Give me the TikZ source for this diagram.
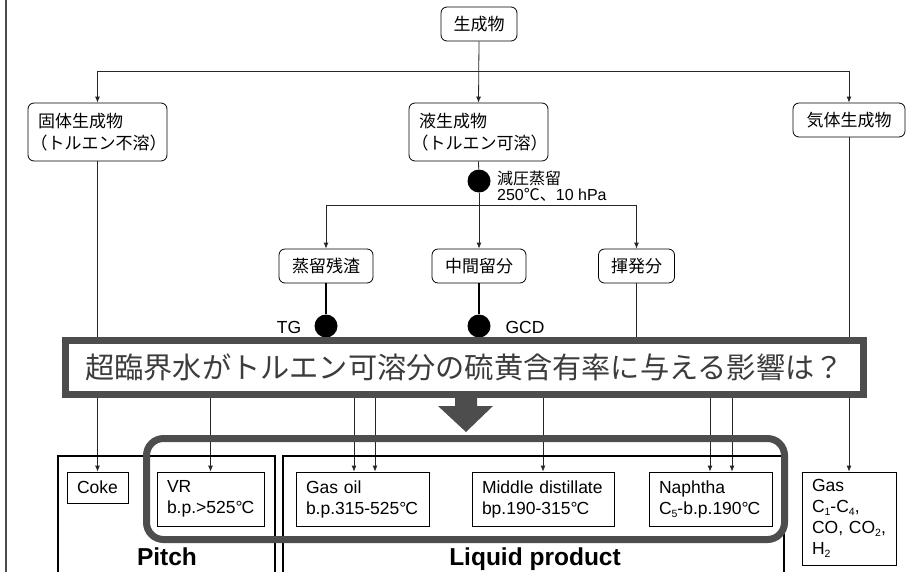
\documentclass[tikz,border=0pt]{standalone}
\usepackage{fontspec}
\setmainfont{Liberation Sans}
\newfontfamily\jp{Noto Sans CJK JP}
\usetikzlibrary{arrows.meta,calc}
\definecolor{bannergray}{RGB}{77,77,77}
\definecolor{bannertext}{RGB}{60,60,60}
\newcommand\dgc{°\kern-0.06em C}
\newcommand\sbs[1]{\raisebox{-0.35ex}{\fontsize{10.5}{10.5}\selectfont #1}}
\newcommand\pleft[1]{\mbox{\kern-7.5pt #1}}
\begin{document}
\begin{tikzpicture}[x=1pt,y=-1pt,
  font=\fontsize{17.5}{21}\selectfont,
  rbox/.style={draw=black, line width=0.8pt, rounded corners=6pt, inner sep=0pt,
    align=left, minimum height=34pt, font=\jp\fontsize{17}{22}\selectfont},
  sbox/.style={draw=black, line width=0.8pt, inner ysep=0pt, inner xsep=10pt,
    align=left, minimum height=54pt},
  dot/.style={circle, fill=black, inner sep=0pt, minimum size=23pt},
  conn/.style={draw=black!85, line width=0.8pt},
  arr/.style={conn, -{Latex[length=6pt,width=5pt]}},
  thick conn/.style={draw=black, line width=1.5pt},
  frame/.style={draw=black, line width=2.5pt},
  banner/.style={draw=bannergray, line width=7pt, fill=white, inner sep=0pt,
    minimum width=798pt, minimum height=54pt, text=bannertext,
    font=\jp\fontsize{29.2}{32}\selectfont},
  hilite/.style={draw=bannergray, line width=7pt, rounded corners=17pt},
  grouplabel/.style={font=\bfseries\fontsize{24.5}{26}\selectfont, anchor=base},
  plain/.style={inner sep=0pt}
]
\useasboundingbox (0,0) rectangle (923,571);
\clip (0,0) rectangle (923,571);

% left border line
\draw[black!70, line width=1.2pt] (6,-2) -- (6,575);

% top nodes
\node[rbox, minimum width=76pt, align=center] (top) at (479,24) {生成物};
\node[rbox, minimum height=58pt, inner xsep=10pt, text width=119pt] (solid) at (97.5,132)
  {固体生成物\\\pleft{（トルエン不溶）}};
\node[rbox, minimum height=58pt, inner xsep=10pt, text width=119pt] (liq) at (478.5,132)
  {液生成物\\\pleft{（トルエン可溶）}};
\node[rbox, minimum width=112pt, align=center] (gasp) at (849,120) {気体生成物};

\coordinate (j1) at (479,71);
\draw[arr] (top.south) -- (liq.north);
\draw[arr] (j1) -| (solid.north);
\draw[arr] (j1) -| (gasp.north);

% vacuum distillation
\node[dot] (d1) at (479,181) {};
\node[plain, anchor=base west, font=\jp\fontsize{16}{18}\selectfont] (vd1) at (497,184) {減圧蒸留};
\node[plain, anchor=base west, font=\fontsize{16}{18}\selectfont] (vd2) at (497,200)
  {250{\jp ℃、}10 hPa};

\node[rbox, minimum width=94pt, align=center] (res) at (326,266) {蒸留残渣};
\node[rbox, minimum width=94pt, align=center] (mid) at (479,266) {中間留分};
\node[rbox, minimum width=76pt, align=center] (vol) at (636.5,266) {揮発分};

\draw[conn] (liq.south) -- (d1);
\coordinate (j2) at (479,205);
\draw[arr] (d1) -- (mid.north);
\draw[arr] (j2) -| (res.north);
\draw[arr] (j2) -| (vol.north);

% analysis dots
\node[dot] (tg) at (326,326) {};
\node[dot] (gcd) at (479,326) {};
\node[plain, anchor=center] (tgl) at (289,327) {TG};
\node[plain, anchor=center] (gcdl) at (525,327) {GCD};
\draw[thick conn] (res.south) -- (tg);
\draw[thick conn] (mid.south) -- (gcd);

% bottom boxes
\node[draw=black, line width=0.8pt, inner sep=0pt, minimum width=61pt, minimum height=31pt] (coke) at (97.5,487.5) {Coke};
\node[sbox, text width=87pt] (vr) at (210.5,499) {VR\\b.p.>525\dgc};
\node[sbox, text width=113pt] (go) at (362.5,499) {Gas oil\\b.p.315-525\dgc};
\node[sbox, text width=122pt] (md) at (543,499) {Middle distillate\\bp.190-315\dgc};
\node[sbox, text width=103pt] (na) at (710.5,499) {Naphtha\\C\sbs{5}-b.p.190\dgc};
\node[sbox, text width=74pt, minimum height=93pt] (gas) at (849,518.5)
  {Gas\\C\sbs{1}-C\sbs{4},\\CO, CO\sbs{2},\\H\sbs{2}};

% connectors to bottom (routing hidden under the banner)
\coordinate (h1) at (0,360);
\coordinate (h2) at (0,372);
\coordinate (h3) at (0,384);
\draw[arr] (solid.south) -- (coke.north);
\draw[arr] (gasp.south) -- (gas.north);
\draw[arr] (tg) -- (tg |- h1) -| (vr.north);
\draw[arr] (tg |- h1) -| ($(go.north)+(-8.5,0)$);
\draw[arr] (gcd) -- (gcd |- h2) -| ($(go.north)+(12.5,0)$);
\draw[arr] (gcd |- h2) -| (md.north);
\draw[arr] (gcd |- h2) -| ($(na.north)+(-0.5,0)$);
\draw[arr] (vol.south) -- (vol |- h3) -| ($(na.north)+(21.5,0)$);

% banner
\node[banner] (q) at (464.5,367.5) {超臨界水がトルエン可溶分の硫黄含有率に与える影響は？};
\fill[bannergray] (455,396) -- (477,396) -- (477,406) -- (493,406) -- (466,432)
  -- (438,406) -- (455,406) -- cycle;

% group frames
\draw[frame] (58,456) rectangle (275,600);
\draw[frame] (283,456) rectangle (784,600);
\node[grouplabel] (pitch) at (167,565) {Pitch};
\node[grouplabel] (liqp) at (535,565) {Liquid product};

% highlight
\draw[hilite] (146.5,438.5) rectangle (784.5,539.5);
\end{tikzpicture}
\end{document}
